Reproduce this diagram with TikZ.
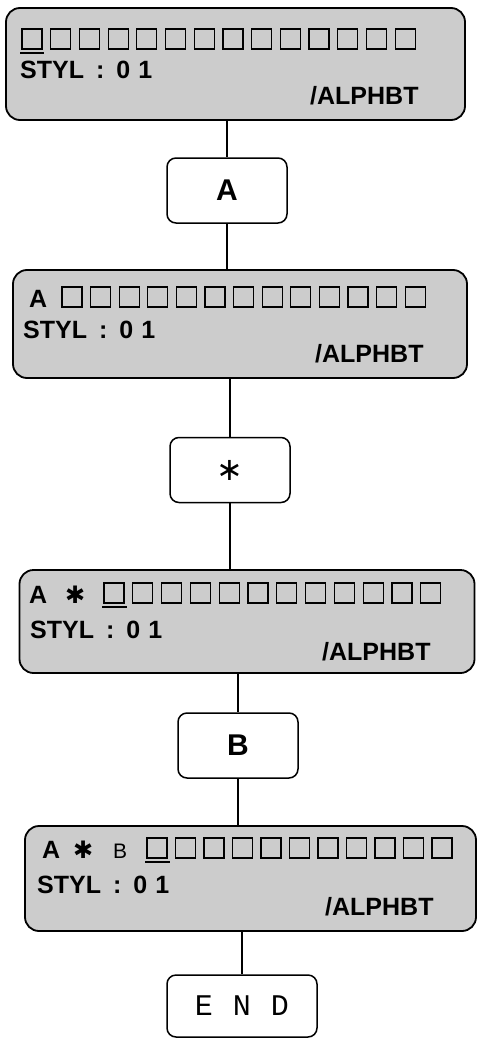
\documentclass[tikz,border=0pt]{standalone}
\usepackage{fontspec}
\setmainfont{Liberation Sans}
\setmonofont{Liberation Mono}
\newfontfamily\heavysym{DejaVu Sans}
\usetikzlibrary{positioning}

\newcommand{\stylline}{STYL\hspace{12pt}:\hspace{12pt}0\hspace{8pt}1}

\begin{document}
\begin{tikzpicture}[
        x=1pt, y=-1pt,
        font=\fontsize{25}{25}\selectfont\bfseries,
        lcd/.style={
            rectangle,
            rounded corners=14pt,
            draw=black,
            line width=1.8pt,
            fill=black!20,
            inner sep=0pt
        },
        keybox/.style={
            rectangle,
            rounded corners=9pt,
            draw=black,
            line width=1.5pt,
            fill=white,
            minimum width=120pt,
            minimum height=65pt,
            inner sep=0pt
        },
        lcdtxt/.style={anchor=base west, inner sep=0pt},
        cell/.style={draw=black, line width=1.2pt},
        cursor/.style={draw=black, line width=1.8pt},
        link/.style={draw=black, line width=1.3pt}
    ]
    \useasboundingbox (0,0) rectangle (477,1038);

    % Display 1 (empty line)
    \node[lcd, minimum width=459pt, minimum height=112pt] (d1) at (235.5,64) {};
    \foreach \i in {0,...,13} \draw[cell] (22+\i*28.7,29) rectangle ++(20,20);
    \draw[cursor] (20,53) -- (44,53);
    \node[lcdtxt] (d1styl) at (20,79) {\stylline};
    \node[lcdtxt] (d1mode) at (310,105) {/ALPHBT};

    % Key A
    \node[keybox] (kA) at (227,190.5) {\fontsize{30}{30}\selectfont A};

    % Display 2
    \node[lcd, minimum width=454pt, minimum height=108pt] (d2) at (240,324) {};
    \node[lcdtxt] (d2in) at (29,307) {A};
    \foreach \i in {0,...,12} \draw[cell] (62+\i*28.6,287) rectangle ++(20,20);
    \node[lcdtxt] (d2styl) at (23,338) {\stylline};
    \node[lcdtxt] (d2mode) at (315,362) {/ALPHBT};

    % Key *
    \node[keybox] (kStar) at (230,470) {\heavysym\mdseries\fontsize{32}{32}\selectfont ∗};

    % Display 3
    \node[lcd, minimum width=455pt, minimum height=103pt] (d3) at (247,621.5) {};
    \node[lcdtxt] (d3in) at (29,603) {A};
    \node[lcdtxt] (d3ast) at (65,603) {\heavysym\fontsize{24}{24}\selectfont ✱};
    \foreach \i in {0,...,11} \draw[cell] (104+\i*28.8,583) rectangle ++(20,20);
    \draw[cursor] (102,607) -- (127,607);
    \node[lcdtxt] (d3styl) at (30,638) {\stylline};
    \node[lcdtxt] (d3mode) at (322,660) {/ALPHBT};

    % Key B
    \node[keybox] (kB) at (238,745.5) {\fontsize{30}{30}\selectfont B};

    % Display 4
    \node[lcd, minimum width=451pt, minimum height=105pt] (d4) at (250.5,878.5) {};
    \node[lcdtxt] (d4in) at (42,858) {A};
    \node[lcdtxt] (d4ast) at (73,858) {\heavysym\fontsize{24}{24}\selectfont ✱};
    \node[lcdtxt] (d4b) at (113,858) {\fontsize{21}{21}\selectfont\mdseries B};
    \foreach \i in {0,...,10} \draw[cell] (147+\i*28.5,838) rectangle ++(20,20);
    \draw[cursor] (145,862) -- (170,862);
    \node[lcdtxt] (d4styl) at (37,893) {\stylline};
    \node[lcdtxt] (d4mode) at (325,915) {/ALPHBT};

    % Key END
    \node[keybox, minimum width=150pt, minimum height=62pt] (kEnd) at (242,1006) {\ttfamily\mdseries\fontsize{30}{30}\selectfont E\hspace{20pt}N\hspace{20pt}D};

    % Links
    \draw[link] (kA.north |- d1.south) -- (kA.north);
    \draw[link] (kA.south) -- (kA.south |- d2.north);
    \draw[link] (kStar.north |- d2.south) -- (kStar.north);
    \draw[link] (kStar.south) -- (kStar.south |- d3.north);
    \draw[link] (kB.north |- d3.south) -- (kB.north);
    \draw[link] (kB.south) -- (kB.south |- d4.north);
    \draw[link] (kEnd.north |- d4.south) -- (kEnd.north);
\end{tikzpicture}
\end{document}
